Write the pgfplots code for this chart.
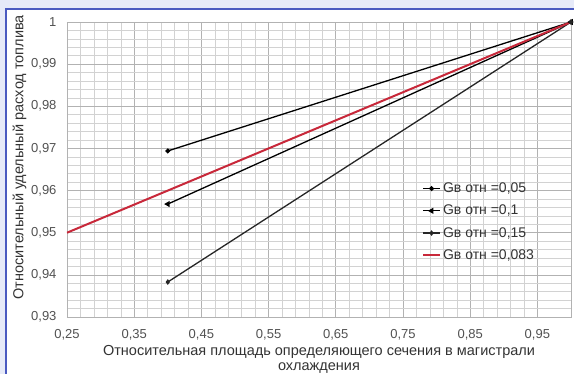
\documentclass[border=0pt]{standalone}
\usepackage{pgfplots}
\pgfplotsset{compat=1.18}
\usepackage{fontspec}
\setmainfont{Liberation Sans}
\definecolor{bgblue}{HTML}{E6EAF8}
\definecolor{frameblue}{HTML}{4A5AC0}
\definecolor{txt}{HTML}{333333}
\definecolor{redline}{HTML}{C8283A}
\begin{document}
\begin{tikzpicture}
\path[use as bounding box] (0,0) rectangle (574pt,374pt);
\fill[bgblue] (0,0) rectangle (574pt,374pt);
\fill[white] (6pt,0) rectangle (574pt,364pt);
\fill[frameblue] (5pt,0pt) rectangle (7pt,366pt);
\fill[frameblue] (5pt,363.5pt) rectangle (574pt,366pt);
\begin{axis}[
  at={(67pt,57pt)}, anchor=south west,
  scale only axis, width=504pt, height=295pt,
  xmin=0.25, xmax=1.0, ymin=0.93, ymax=1.0,
  xtick={0.25,0.35,...,0.96},
  ytick={0.93,0.94,...,1.001},
  minor x tick num=4, minor y tick num=4,
  grid=both,
  major grid style={gray!60, line width=0.6pt},
  minor grid style={gray!35, line width=0.5pt},
  axis line style={gray!60},
  tick style={draw=none},
  /pgf/number format/assume math mode=true,
  /pgf/number format/use comma,
  /pgf/number format/fixed,
  /pgf/number format/precision=2,
  xticklabel style={font=\fontsize{13}{15}\selectfont, text=txt!85, yshift=-9pt},
  yticklabel style={font=\fontsize{13}{15}\selectfont, text=txt!85, xshift=-7pt},
  yticklabel={\pgfmathprintnumber[fixed,precision=2,use comma]{\tick}},
  xlabel={Относительная площадь определяющего сечения в магистрали\\охлаждения},
  xlabel style={align=center, font=\fontsize{14.5}{15.5}\selectfont, text=txt, yshift=2pt},
  ylabel={Относительный удельный расход топлива},
  ylabel style={font=\fontsize{14.5}{16}\selectfont, text=txt, yshift=-2pt, xshift=12pt},
  legend style={draw=none, fill=none, at={(0.704,0.462)}, anchor=north west,
    font=\fontsize{14}{15}\selectfont, text=txt, row sep=7pt, inner sep=0pt},
  legend cell align=left,
]
\addplot[black, line width=1.3pt, mark=*, mark size=1.8pt] coordinates {(0.4,0.9694) (1.0,1.0)};
\addlegendentry{Gв отн =0,05}
\addplot[black, line width=1.3pt, mark=triangle*, mark size=2.3pt, mark options={rotate=90}] coordinates {(0.4,0.9568) (1.0,1.0)};
\addlegendentry{Gв отн =0,1}
\addplot[black!85, line width=1.3pt, mark=diamond*, mark size=1.8pt] coordinates {(0.4,0.9383) (1.0,1.0)};
\addlegendentry{Gв отн =0,15}
\addplot[redline, line width=2pt] coordinates {(0.25,0.95) (1.0,1.0)};
\addlegendentry{Gв отн =0,083}
\end{axis}
\end{tikzpicture}
\end{document}
